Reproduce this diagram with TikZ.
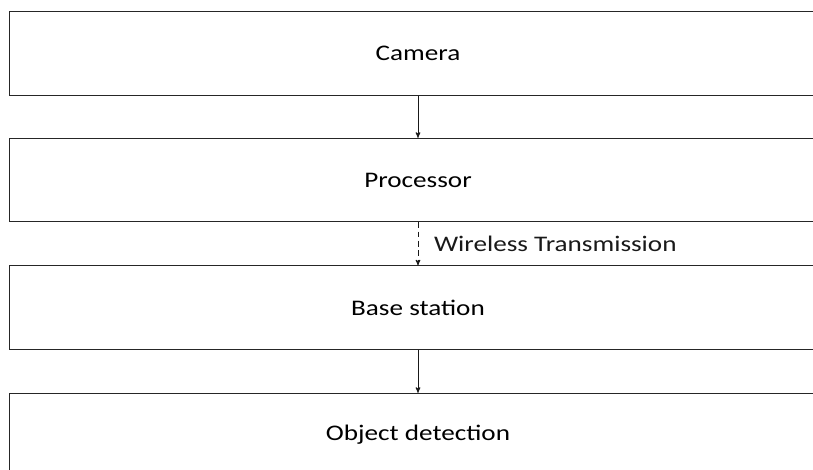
\documentclass[tikz,border=0pt]{standalone}
\usepackage{fontspec}
\setmainfont{Carlito}[FakeStretch=1.22]
\usetikzlibrary{arrows}

\tikzset{
 stage/.style={draw=black!85, line width=0.8pt, minimum width=24.54cm, minimum height=2.5cm},
 flow/.style={->, >=stealth', line width=0.75pt, black!90},
}

\begin{document}
\begin{tikzpicture}[x=0.03cm,y=-0.03cm,font=\fontsize{19}{23}\selectfont]
 \useasboundingbox (0,0) rectangle (813,469);
 \clip (0,0) rectangle (813,469);

 \node[stage] (camera) at (418,53.5) {Camera};
 \node[stage] (processor) at (418,180) {Processor};
 \node[stage] (base) at (418,307.5) {Base station};
 \node[stage] (detect) at (418,435) {Object detection};

 \draw[flow] (camera) to (processor);
 \draw[flow, dash pattern=on 5pt off 3pt] (processor) to node[right=10pt] {Wireless Transmission} (base);
 \draw[flow] (base) to (detect);
\end{tikzpicture}
\end{document}
